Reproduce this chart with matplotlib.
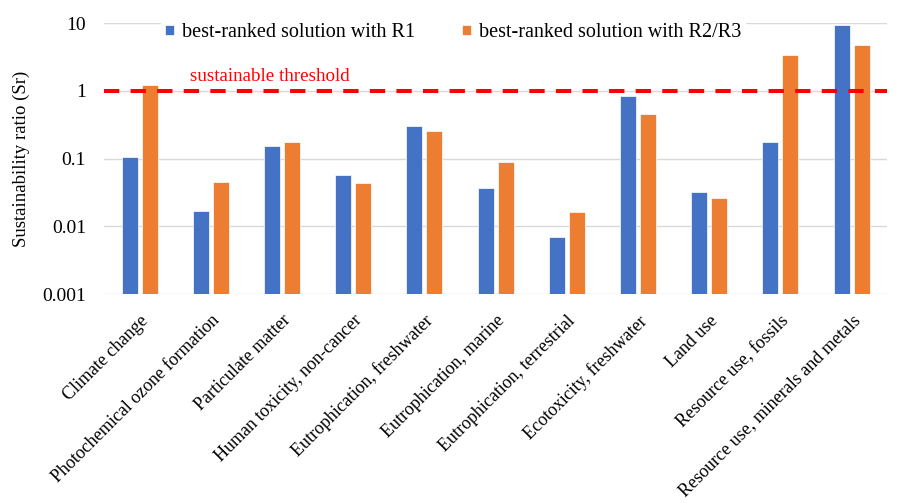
import numpy as np
import matplotlib
matplotlib.use("Agg")
from matplotlib import pyplot as plt

categories = ["Climate change", "Photochemical ozone formation", "Particulate matter",
              "Human toxicity, non-cancer", "Eutrophication, freshwater", "Eutrophication, marine",
              "Eutrophication, terrestrial", "Ecotoxicity, freshwater", "Land use",
              "Resource use, fossils", "Resource use, minerals and metals"]
r1 = [0.105, 0.0171, 0.152, 0.0567, 0.302, 0.0372, 0.0069, 0.826, 0.0319, 0.175, 9.5]
r23 = [1.21, 0.0447, 0.175, 0.0437, 0.258, 0.0891, 0.016, 0.449, 0.0266, 3.36, 4.71]
threshold = 1

plt.rcParams["font.family"] = ["Liberation Serif", "DejaVu Serif"]

fig = plt.figure(figsize=(8.98, 5.03), dpi=100)
ax = fig.add_axes([0.1158, 0.4155, 0.8722, 0.5385])

x = np.arange(len(categories))
w = 0.225
ax.bar(x - 0.14, r1, w, color="#4472C4", edgecolor="white", linewidth=0.5,
       label="best-ranked solution with R1", zorder=3)
ax.bar(x + 0.14, r23, w, color="#ED7D31", edgecolor="white", linewidth=0.5,
       label="best-ranked solution with R2/R3", zorder=3)
ax.axhline(threshold, color="#FF0000", linestyle=(0, (3.8, 2.8)), linewidth=2.9, zorder=4)
ax.text(1.83, 1.64, "sustainable threshold", color="#FF0000", fontsize=13.7,
        ha="center", va="center", zorder=5)

ax.set_yscale("log")
ax.set_ylim(0.001, 10)
ax.set_xlim(-0.5, len(categories) - 0.5)
ax.set_yticks([0.001, 0.01, 0.1, 1, 10])
ax.set_yticklabels(["0.001", "0.01", "0.1", "1", "10"])
ax.minorticks_off()
ax.yaxis.grid(True, color="#D9D9D9", linewidth=1, zorder=0)
for s in ax.spines.values():
    s.set_visible(False)
ax.tick_params(axis="both", length=0)
ax.tick_params(axis="y", pad=13, labelsize=14)
ax.set_ylabel("Sustainability ratio (Sr)", fontsize=13.5, labelpad=9)

ax.set_xticks(x)
ax.set_xticklabels(categories, rotation=45, ha="right", rotation_mode="anchor", fontsize=13)
ax.tick_params(axis="x", pad=13)

leg = ax.legend(loc="center", bbox_to_anchor=(0.446, 0.965), ncol=2, frameon=True,
                fontsize=14.5, handlelength=0.45, handleheight=0.45, handletextpad=0.4,
                columnspacing=2.3, borderpad=0.2)
leg.get_frame().set_edgecolor("white")
leg.get_frame().set_facecolor("white")
leg.get_frame().set_alpha(1)
leg.set_zorder(6)

fig.savefig("out.png", dpi=100)
